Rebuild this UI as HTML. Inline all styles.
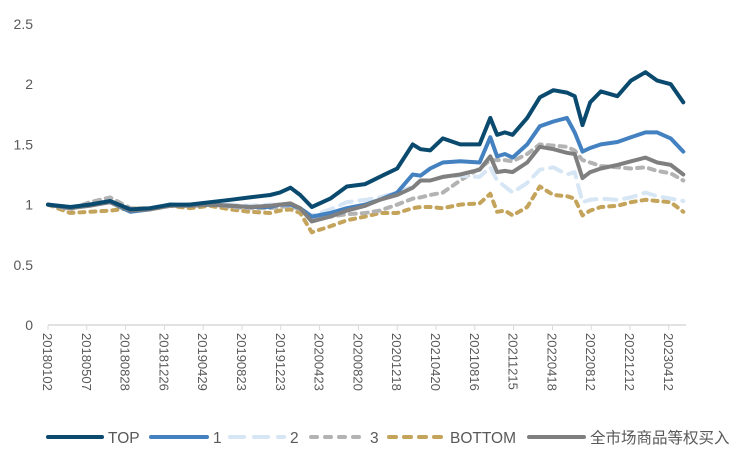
<!DOCTYPE html>
<html><head><meta charset="utf-8"><style>
body{margin:0;background:#fff;width:738px;height:453px;overflow:hidden}
svg text{font-family:"Liberation Sans","Noto Sans CJK SC",sans-serif;fill:#595959}
</style></head><body>
<svg id="chart" width="738" height="453" viewBox="0 0 738 453"></svg>
<script>
const tickLabels=["20180102","20180507","20180828","20181226","20190429","20190823","20191223","20200423","20200820","20201218","20210420","20210816","20211215","20220418","20220812","20221212","20230412"];
const yTicks=[0,0.5,1,1.5,2,2.5];
const yTickText=["0","0.5","1","1.5","2","2.5"];
const months=[0,2.3,4.3,6.4,8.5,10.5,12.6,14.6,16.7,18.8,20.8,22.9,23.9,25,26,27.2,29.1,30.8,32.7,34.2,36,37.6,38.4,39.4,40.7,42.5,44.5,45.6,46.3,47.1,47.9,49.4,50.7,52.1,53.5,54.3,55.1,55.9,57,58.7,60.1,61.6,62.8,64.2,65.5];
const seriesTop=[1.0,0.98,1.0,1.03,0.96,0.97,1.0,1.0,1.02,1.04,1.06,1.08,1.1,1.14,1.08,0.98,1.05,1.15,1.17,1.23,1.3,1.5,1.46,1.45,1.55,1.5,1.5,1.72,1.58,1.6,1.58,1.72,1.89,1.95,1.93,1.9,1.66,1.85,1.94,1.9,2.03,2.1,2.03,2.0,1.85];
const series1=[1.0,0.97,1.0,1.02,0.94,0.96,1.0,0.99,1.0,0.99,0.98,0.98,1.0,1.0,0.97,0.9,0.93,0.97,1.0,1.04,1.1,1.25,1.24,1.3,1.35,1.36,1.35,1.56,1.4,1.42,1.39,1.5,1.65,1.69,1.72,1.6,1.44,1.47,1.5,1.52,1.56,1.6,1.6,1.55,1.44];
const series2=[1.0,0.97,1.0,1.02,0.95,0.97,1.0,0.99,1.01,1.0,0.99,1.0,1.0,1.0,0.97,0.91,0.96,1.02,1.04,1.06,1.1,1.15,1.2,1.2,1.23,1.24,1.23,1.31,1.2,1.15,1.1,1.18,1.29,1.31,1.25,1.27,1.02,1.04,1.05,1.04,1.06,1.1,1.07,1.05,1.03];
const series3=[1.0,0.96,1.02,1.06,0.97,0.97,0.99,1.0,1.01,0.98,0.97,0.97,0.98,0.99,0.96,0.88,0.9,0.92,0.93,0.95,1.0,1.05,1.06,1.08,1.1,1.2,1.3,1.37,1.37,1.37,1.36,1.42,1.5,1.49,1.48,1.45,1.37,1.35,1.32,1.31,1.3,1.31,1.28,1.26,1.2];
const seriesBottom=[1.0,0.93,0.94,0.95,0.97,0.96,0.99,0.97,0.99,0.96,0.94,0.93,0.95,0.96,0.93,0.77,0.82,0.87,0.9,0.93,0.93,0.97,0.98,0.98,0.97,1.0,1.01,1.09,0.94,0.95,0.91,0.98,1.15,1.08,1.07,1.05,0.91,0.95,0.98,0.99,1.02,1.04,1.03,1.02,0.94];
const seriesMarket=[1.0,0.97,0.99,1.02,0.95,0.96,0.99,0.99,1.0,0.99,0.98,0.99,1.0,1.01,0.97,0.86,0.9,0.95,0.99,1.04,1.08,1.14,1.2,1.2,1.23,1.25,1.29,1.4,1.27,1.28,1.27,1.35,1.48,1.46,1.43,1.42,1.22,1.27,1.3,1.33,1.36,1.39,1.35,1.33,1.25];

const NS="http://www.w3.org/2000/svg";
const svg=document.getElementById('chart');
const X=m=>48+m*9.7;
const Y=v=>325-v*120.4;
function mk(tag,attrs){const e=document.createElementNS(NS,tag);for(const k in attrs)e.setAttribute(k,attrs[k]);svg.appendChild(e);return e;}

yTicks.forEach((v,i)=>{
  const t=mk('text',{x:33,y:Y(v)+5,'text-anchor':'end','font-size':14});
  t.textContent=yTickText[i];
  
  
});
const ax=mk('line',{x1:48,x2:686,y1:325,y2:325,stroke:'#d9d9d9','stroke-width':1.5});


tickLabels.forEach((lab,i)=>{
  const x=X(i*4);
  const tk=mk('line',{x1:x,x2:x,y1:325,y2:330,stroke:'#d9d9d9'});
  
  
  const t=mk('text',{x:0,y:0,'font-size':13,transform:`translate(${x-5},333) rotate(90)`});
  t.textContent=lab;
  
  
});
function line(vals,color,dash,name){
  const d=vals.map((v,i)=>(i?'L':'M')+X(months[i]).toFixed(1)+' '+Y(v).toFixed(1)).join(' ');
  const p=mk('path',{d,fill:'none',stroke:color,'stroke-width':4,'stroke-linejoin':'round','stroke-linecap':'round'});
  if(dash)p.setAttribute('stroke-dasharray',dash);
  
  
}
line(seriesBottom,'#c4a35a','5 6','series-bottom');
line(series3,'#b3b3b3','6 6','series-3');
line(series2,'#d6e6f5','12 8','series-2');
line(series1,'#4381c1',null,'series-1');
line(seriesMarket,'#7f7f7f',null,'series-market');
line(seriesTop,'#0a4a6e',null,'series-top');

const leg=[["TOP",'#0a4a6e',null,48,108],["1",'#4381c1',null,151,213],["2",'#d6e6f5','14 10',230,290],["3",'#b3b3b3','6 8',311,370],["BOTTOM",'#c4a35a','7 8',389,450],["全市场商品等权买入",'#7f7f7f',null,529,590]];
leg.forEach(([lab,c,dash,x,tx])=>{
  const l=mk('line',{x1:x,x2:tx-6,y1:437,y2:437,stroke:c,'stroke-width':4,'stroke-linecap':'round'});
  if(dash)l.setAttribute('stroke-dasharray',dash);
  
  
  const t=mk('text',{x:tx,y:443,'font-size':15.5});
  t.textContent=lab;
  
  
});
</script>
</body></html>
